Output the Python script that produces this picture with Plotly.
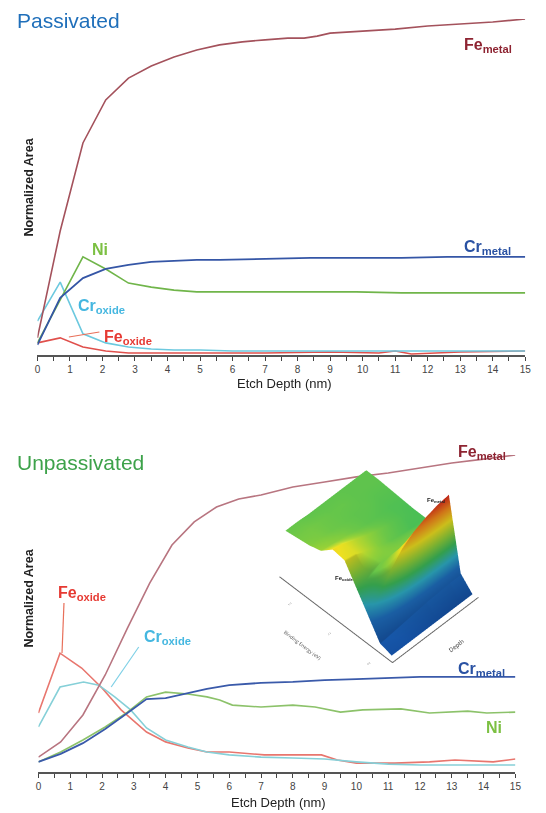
import plotly.graph_objects as go

W, H = 546, 813

# ---------------- Passivated (top) ----------------
depth_fe_metal_p = [0, 0.7, 1.4, 2.1, 2.8, 3.5, 4.2, 4.9, 5.6, 6.3, 7.0, 7.7, 8.2, 8.6, 9.0, 10, 11, 12, 13, 14, 15]
fe_metal_p = [0.051, 0.369, 0.631, 0.759, 0.824, 0.860, 0.887, 0.908, 0.923, 0.932, 0.938, 0.943, 0.943, 0.949, 0.958, 0.964, 0.970, 0.979, 0.985, 0.991, 1.0]

depth_cr_metal_p = [0, 0.7, 1.4, 2.1, 2.8, 3.5, 4.2, 4.9, 5.6, 7, 8.4, 9.8, 11.2, 12.6, 14, 15]
cr_metal_p = [0.030, 0.170, 0.229, 0.256, 0.268, 0.277, 0.280, 0.283, 0.283, 0.286, 0.289, 0.289, 0.289, 0.292, 0.292, 0.292]

depth_ni_p = [0, 0.7, 1.4, 2.1, 2.8, 3.5, 4.2, 4.9, 5.6, 7, 8.4, 9.8, 11.2, 12.6, 14, 15]
ni_p = [0.036, 0.164, 0.292, 0.256, 0.214, 0.202, 0.193, 0.188, 0.188, 0.188, 0.188, 0.188, 0.185, 0.185, 0.185, 0.185]

depth_cr_oxide_p = [0, 0.7, 1.4, 2.1, 2.8, 3.5, 4.2, 5, 6, 8, 10, 12, 15]
cr_oxide_p = [0.101, 0.217, 0.063, 0.036, 0.024, 0.018, 0.015, 0.015, 0.012, 0.012, 0.012, 0.012, 0.012]

depth_fe_oxide_p = [0, 0.7, 1.4, 2.1, 2.8, 3.5, 5, 7, 9, 10.5, 11, 11.5, 13, 15]
fe_oxide_p = [0.036, 0.051, 0.024, 0.012, 0.006, 0.006, 0.006, 0.006, 0.009, 0.006, 0.012, 0.003, 0.009, 0.012]

# ---------------- Unpassivated (bottom) ----------------
depth_fe_metal_u = [0, 0.7, 1.4, 2.1, 2.8, 3.5, 4.2, 4.9, 5.6, 6.3, 7, 8, 9, 10, 11, 12, 13, 14, 15]
fe_metal_u = [0.047, 0.095, 0.180, 0.306, 0.454, 0.596, 0.716, 0.789, 0.836, 0.861, 0.874, 0.899, 0.915, 0.931, 0.943, 0.959, 0.975, 0.987, 1.0]

depth_cr_metal_u = [0, 0.7, 1.4, 2.1, 2.8, 3.4, 4.0, 4.7, 5.3, 6.0, 7, 8, 9, 10, 11, 12, 13, 14, 15]
cr_metal_u = [0.032, 0.057, 0.091, 0.136, 0.186, 0.230, 0.233, 0.249, 0.262, 0.274, 0.281, 0.284, 0.290, 0.293, 0.297, 0.300, 0.300, 0.300, 0.300]

depth_ni_u = [0, 0.7, 1.4, 2.1, 2.8, 3.4, 4.0, 4.7, 5.3, 5.7, 6.1, 7, 8, 8.7, 9.5, 10.2, 11.4, 12.3, 13.5, 14.1, 15]
ni_u = [0.032, 0.063, 0.101, 0.142, 0.189, 0.237, 0.252, 0.246, 0.237, 0.227, 0.211, 0.205, 0.211, 0.205, 0.189, 0.196, 0.199, 0.186, 0.192, 0.186, 0.189]

depth_fe_oxide_u = [0, 0.68, 1.36, 2.0, 2.6, 3.4, 4.0, 4.7, 5.3, 6.0, 7.1, 8.1, 8.9, 9.4, 10.0, 11.2, 12.3, 13.1, 14.3, 15]
fe_oxide_u = [0.186, 0.375, 0.328, 0.265, 0.196, 0.126, 0.095, 0.076, 0.063, 0.063, 0.054, 0.054, 0.054, 0.038, 0.028, 0.028, 0.032, 0.038, 0.032, 0.041]

depth_cr_oxide_u = [0, 0.68, 1.42, 1.9, 2.4, 2.9, 3.4, 4.0, 4.7, 5.3, 6, 7, 8, 9, 10, 11, 12, 13, 14, 15]
cr_oxide_u = [0.142, 0.268, 0.284, 0.274, 0.237, 0.196, 0.139, 0.101, 0.079, 0.063, 0.054, 0.047, 0.044, 0.041, 0.032, 0.025, 0.022, 0.022, 0.022, 0.022]

# ---------------- Inset: Fe 2p spectra vs depth (estimated) ----------------
inset_depth = [0, 2, 4, 6, 8, 10, 12, 14]
inset_energy = [704, 705.5, 707, 708.5, 710, 711.5, 713, 714.5, 716, 717.5]
# one row per binding energy, one column per depth
inset_intensity = [
    [0.04, 0.04, 0.04, 0.04, 0.04, 0.04, 0.04, 0.04],
    [0.08, 0.10, 0.12, 0.14, 0.16, 0.17, 0.18, 0.18],
    [0.30, 0.45, 0.62, 0.78, 0.88, 0.94, 0.98, 1.00],
    [0.52, 0.55, 0.58, 0.60, 0.60, 0.60, 0.60, 0.60],
    [0.74, 0.72, 0.66, 0.60, 0.56, 0.54, 0.52, 0.52],
    [0.76, 0.73, 0.67, 0.62, 0.58, 0.55, 0.53, 0.52],
    [0.64, 0.62, 0.60, 0.57, 0.55, 0.54, 0.53, 0.53],
    [0.60, 0.59, 0.57, 0.56, 0.55, 0.55, 0.54, 0.54],
    [0.58, 0.58, 0.57, 0.56, 0.56, 0.55, 0.55, 0.55],
    [0.56, 0.56, 0.55, 0.55, 0.55, 0.55, 0.55, 0.55],
]

tick_vals = list(range(0, 16))
tick_text = [str(v) for v in tick_vals]

FONT = "Liberation Sans, Arial, sans-serif"

fig = go.Figure()


def add(x, y, color, xa, ya, width=1.6):
    fig.add_trace(go.Scatter(x=x, y=y, mode="lines", line=dict(color=color, width=width),
                             xaxis=xa, yaxis=ya, showlegend=False, hoverinfo="skip"))


# top traces
add(depth_fe_oxide_p, fe_oxide_p, "#e0504c", "x", "y")
add(depth_cr_oxide_p, cr_oxide_p, "#6cc9df", "x", "y")
add(depth_ni_p, ni_p, "#70b54a", "x", "y")
add(depth_cr_metal_p, cr_metal_p, "#3556a6", "x", "y", 1.8)
add(depth_fe_metal_p, fe_metal_p, "#a4525c", "x", "y")

# bottom traces
add(depth_fe_oxide_u, fe_oxide_u, "#e8766e", "x2", "y2")
add(depth_cr_oxide_u, cr_oxide_u, "#86d0d8", "x2", "y2")
add(depth_ni_u, ni_u, "#8cc26a", "x2", "y2")
add(depth_cr_metal_u, cr_metal_u, "#3a5aaa", "x2", "y2", 1.8)
add(depth_fe_metal_u, fe_metal_u, "#b87580", "x2", "y2")

# inset surface
jet = [[0.0, "#124a9c"], [0.25, "#1f6fc0"], [0.38, "#2fb0c8"], [0.5, "#3dbb5a"],
       [0.62, "#8fd03a"], [0.75, "#f0e020"], [0.88, "#f58a1c"], [1.0, "#e02a1c"]]
fig.add_trace(go.Surface(x=inset_depth, y=inset_energy, z=inset_intensity, colorscale=jet,
                         cmin=0, cmax=1, showscale=False, hoverinfo="skip", scene="scene",
                         lighting=dict(ambient=0.85, diffuse=0.5, specular=0.1, roughness=0.9)))


def px_x(p):
    return p / W


def px_y(p):
    return 1 - p / H


xdom_top = [px_x(35), px_x(531)]
xdom_bot = [px_x(36), px_x(521)]
ydom_top = [px_y(355), px_y(19)]
ydom_bot = [px_y(772), px_y(455)]

xaxis_common = dict(range=[0, 15], tickvals=tick_vals, ticktext=tick_text,
                    ticks="outside", ticklen=4, tickwidth=1.2, tickcolor="#444",
                    minor=dict(dtick=0.5, tick0=0, ticks="outside", ticklen=4, tickwidth=1.2, tickcolor="#444"),
                    showline=True, linecolor="#555", linewidth=1.6, showgrid=False, zeroline=False,
                    tickfont=dict(family=FONT, size=10, color="#444"), fixedrange=True)
yaxis_common = dict(range=[0, 1.0], showline=False, showticklabels=False, ticks="",
                    showgrid=False, zeroline=False, fixedrange=True)

overlay_common = dict(range=[0, 15], dtick=0.5, tick0=0, ticks="inside", ticklen=4, tickwidth=1.2,
                      tickcolor="#444", showticklabels=False, showline=False, showgrid=False, zeroline=False)

scene_axis = dict(showbackground=False, showgrid=False, zeroline=False, showspikes=False,
                  showline=True, linecolor="#666", linewidth=2, ticks="", title=dict(text=""))

cam_center = dict(x=0.027, y=-0.027, z=-0.34)
cam_dir = dict(x=-0.92, y=-0.92, z=1.52)

fig.update_layout(
    width=W, height=H, margin=dict(l=0, r=0, t=0, b=0),
    paper_bgcolor="white", plot_bgcolor="rgba(0,0,0,0)",
    xaxis=dict(xaxis_common, domain=xdom_top, anchor="y"),
    yaxis=dict(yaxis_common, domain=ydom_top, anchor="x"),
    xaxis2=dict(xaxis_common, domain=xdom_bot, anchor="y2"),
    yaxis2=dict(yaxis_common, domain=ydom_bot, anchor="x2"),
    xaxis3=dict(overlay_common, domain=xdom_top, anchor="y", overlaying="x"),
    xaxis4=dict(overlay_common, domain=xdom_bot, anchor="y2", overlaying="x2"),
    scene=dict(
        domain=dict(x=[px_x(266), px_x(506)], y=[px_y(672), px_y(462)]),
        bgcolor="rgba(0,0,0,0)",
        xaxis=dict(scene_axis, showticklabels=False, title=dict(text="Depth", font=dict(size=6, color="#333"))),
        yaxis=dict(scene_axis, showticklabels=True, tickvals=[705, 710, 715],
                   tickfont=dict(size=5, color="#555"),
                   title=dict(text="Binding Energy (eV)", font=dict(size=5, color="#555"))),
        zaxis=dict(scene_axis, visible=False),
        aspectmode="manual", aspectratio=dict(x=1.156, y=1.52, z=1.27),
        camera=dict(eye=dict(x=cam_center["x"] + cam_dir["x"], y=cam_center["y"] + cam_dir["y"],
                             z=cam_center["z"] + cam_dir["z"]),
                    center=cam_center,
                    projection=dict(type="orthographic")),
    ),
)

ann = []


def text(px, py, t, size, color, xanchor="center", bold=False, angle=0):
    ann.append(dict(x=px_x(px), y=px_y(py), xref="paper", yref="paper", text=("<b>%s</b>" % t) if bold else t,
                    showarrow=False, xanchor=xanchor, yanchor="middle", textangle=angle,
                    font=dict(family=FONT, size=size, color=color)))


def label(px, py, main, sub, color, size=16):
    t = "<b>%s<sub>%s</sub></b>" % (main, sub)
    ann.append(dict(x=px_x(px), y=px_y(py), xref="paper", yref="paper", text=t, showarrow=False,
                    xanchor="left", yanchor="middle", font=dict(family=FONT, size=size, color=color)))


text(12, 20, "Passivated", 21, "#1f6fba", xanchor="left")
text(12, 463, "Unpassivated", 21, "#3da24a", xanchor="left")

text(26, 187, "Normalized Area", 12.5, "#222", bold=True, angle=-90)
text(26, 598, "Normalized Area", 12.5, "#222", bold=True, angle=-90)
text(286, 383, "Etch Depth (nm)", 13, "#222")
text(280, 802, "Etch Depth (nm)", 13, "#222")

# top labels
label(467, 45, "Fe", "metal", "#8e2432")
label(467, 247, "Cr", "metal", "#2a52a3")
text(99, 249, "Ni", 16, "#7cc043", bold=True)
label(74, 306, "Cr", "oxide", "#45b7e0")
label(101, 338, "Fe", "oxide", "#e63a33")

# bottom labels
label(461, 452, "Fe", "metal", "#8e2432")
label(461, 669, "Cr", "metal", "#2a52a3")
text(499, 727, "Ni", 16, "#7cc043", bold=True)
label(54, 593, "Fe", "oxide", "#e63a33")
label(141, 637, "Cr", "oxide", "#45b7e0")

# tiny labels on the inset
text(440, 500, "<b>Fe<sub>metal</sub></b>", 6, "#222")
text(347, 578, "<b>Fe<sub>oxide</sub></b>", 6, "#222")

fig.update_layout(annotations=ann)

shapes = [
    dict(type="line", xref="paper", yref="paper", x0=px_x(67), y0=px_y(337), x1=px_x(98), y1=px_y(332),
         line=dict(color="#e8705a", width=1.2)),
    dict(type="line", xref="paper", yref="paper", x0=px_x(62), y0=px_y(603), x1=px_x(60), y1=px_y(653),
         line=dict(color="#e8705a", width=1.2)),
    dict(type="line", xref="paper", yref="paper", x0=px_x(138), y0=px_y(647), x1=px_x(110), y1=px_y(687),
         line=dict(color="#7fd0e6", width=1.2)),
]
fig.update_layout(shapes=shapes)

fig.write_html("out.html")
